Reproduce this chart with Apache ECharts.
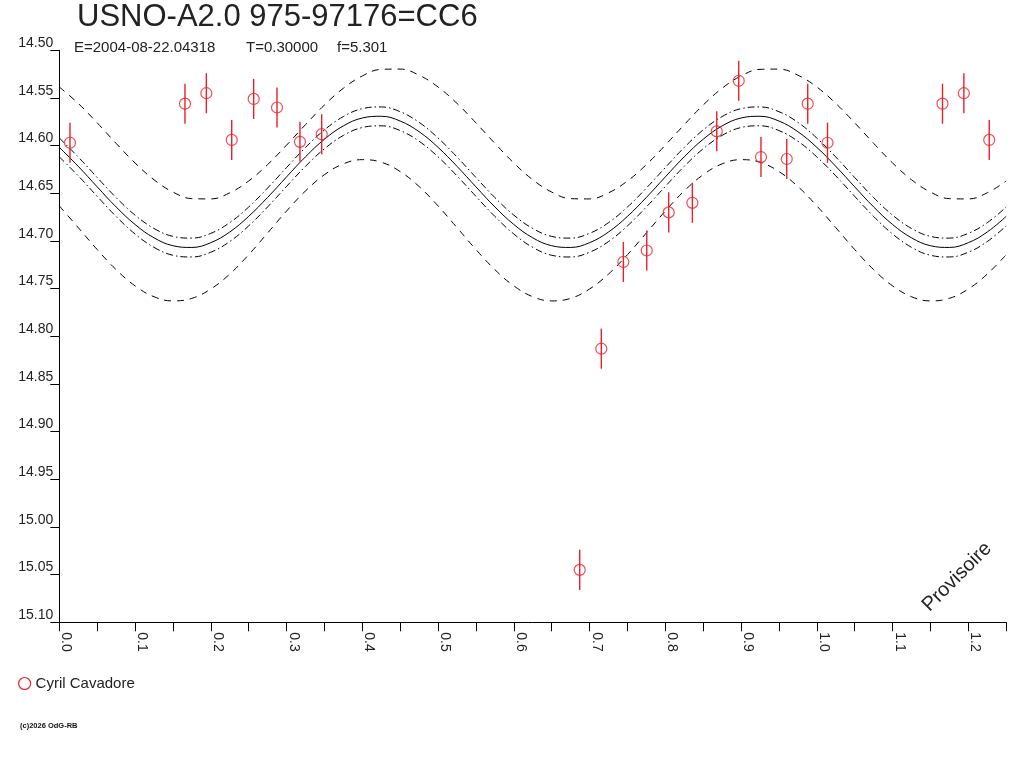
<!DOCTYPE html>
<html>
<head>
<meta charset="utf-8">
<script src="https://cdn.jsdelivr.net/npm/echarts@6/dist/echarts.min.js"></script>
<style>
html,body{margin:0;padding:0;background:#fff;}
#chart{width:1024px;height:768px;}
</style>
</head>
<body>
<div id="chart"></div>
<script>
// ---- observations (phase, magnitude, error) ----
const obsPhase = [0.0141,0.1659,0.1941,0.2276,0.2566,0.2874,0.3177,0.3464,0.6870,0.7155,0.7446,0.7755,0.8045,0.8357,0.8679,0.8969,0.9263,0.9603,0.9880];
const obsMag   = [14.597,14.556,14.545,14.594,14.551,14.560,14.596,14.588,15.045,14.813,14.722,14.710,14.670,14.660,14.585,14.532,14.612,14.614,14.556];
const obsErr   = [0.021,0.021,0.021,0.021,0.021,0.021,0.021,0.021,0.021,0.021,0.021,0.021,0.021,0.021,0.021,0.021,0.021,0.021,0.021];
const observer = 'Cyril Cavadore';

// ---- model curves (phase step 0.025) ----
const curvePhase = [0,0.025,0.05,0.075,0.1,0.125,0.15,0.175,0.2,0.225,0.25,0.275,0.3,0.325,0.35,0.375,0.4,0.425,0.45,0.475,
  0.5,0.525,0.55,0.575,0.6,0.625,0.65,0.675,0.7,0.725,0.75,0.775,0.8,0.825,0.85,0.875,0.9,0.925,0.95,0.975,
  1.0,1.025,1.05,1.075,1.1,1.125,1.15,1.175,1.2,1.225,1.25];
const fitMag = [14.6018,14.6217,14.6432,14.6643,14.6827,14.6967,14.7050,14.7068,14.7018,14.6906,14.6742,14.6543,14.6328,14.6117,14.5933,14.5793,14.5710,14.5692,14.5742,14.5854,
  14.6018,14.6217,14.6432,14.6643,14.6827,14.6967,14.7050,14.7068,14.7018,14.6906,14.6742,14.6543,14.6328,14.6117,14.5933,14.5793,14.5710,14.5692,14.5742,14.5854,
  14.6018,14.6217,14.6432,14.6643,14.6827,14.6967,14.7050,14.7068,14.7018,14.6906,14.6742];
const dashDotUp = [14.5920,14.6119,14.6334,14.6545,14.6729,14.6869,14.6952,14.6970,14.6920,14.6808,14.6644,14.6445,14.6230,14.6019,14.5835,14.5695,14.5612,14.5594,14.5644,14.5756,
  14.5920,14.6119,14.6334,14.6545,14.6729,14.6869,14.6952,14.6970,14.6920,14.6808,14.6644,14.6445,14.6230,14.6019,14.5835,14.5695,14.5612,14.5594,14.5644,14.5756,
  14.5920,14.6119,14.6334,14.6545,14.6729,14.6869,14.6952,14.6970,14.6920,14.6808,14.6644];
const dashDotLow = [14.6118,14.6317,14.6532,14.6743,14.6927,14.7067,14.7150,14.7168,14.7118,14.7006,14.6842,14.6643,14.6428,14.6217,14.6033,14.5893,14.5810,14.5792,14.5842,14.5954,
  14.6118,14.6317,14.6532,14.6743,14.6927,14.7067,14.7150,14.7168,14.7118,14.7006,14.6842,14.6643,14.6428,14.6217,14.6033,14.5893,14.5810,14.5792,14.5842,14.5954,
  14.6118,14.6317,14.6532,14.6743,14.6927,14.7067,14.7150,14.7168,14.7118,14.7006,14.6842];
const dashedUp = [14.5385,14.5557,14.5761,14.5976,14.6182,14.6358,14.6487,14.6556,14.6559,14.6495,14.6371,14.6199,14.5995,14.5780,14.5574,14.5398,14.5269,14.5200,14.5197,14.5261,
  14.5385,14.5557,14.5761,14.5976,14.6182,14.6358,14.6487,14.6556,14.6559,14.6495,14.6371,14.6199,14.5995,14.5780,14.5574,14.5398,14.5269,14.5200,14.5197,14.5261,
  14.5385,14.5557,14.5761,14.5976,14.6182,14.6358,14.6487,14.6556,14.6559,14.6495,14.6371];
const dashedLow = [14.6632,14.6860,14.7090,14.7301,14.7471,14.7585,14.7629,14.7602,14.7504,14.7347,14.7144,14.6916,14.6686,14.6475,14.6305,14.6191,14.6147,14.6174,14.6272,14.6429,
  14.6632,14.6860,14.7090,14.7301,14.7471,14.7585,14.7629,14.7602,14.7504,14.7347,14.7144,14.6916,14.6686,14.6475,14.6305,14.6191,14.6147,14.6174,14.6272,14.6429,
  14.6632,14.6860,14.7090,14.7301,14.7471,14.7585,14.7629,14.7602,14.7504,14.7347,14.7144];

// ---- texts ----
const titleText = 'USNO-A2.0 975-97176=CC6';
const subTexts = ['E=2004-08-22.04318', 'T=0.30000', 'f=5.301'];
const copyText = '(c)2026 OdG-RB';
const stampText = 'Provisoire';

const RED = '#e8202a';
const FONT = '"Liberation Sans", Arial, sans-serif';
const PMAX = 1.25;

// observations plus the repeated part of the phase diagram (phase + 1)
const pts = [];
for (let i = 0; i < obsPhase.length; i++) {
  pts.push([obsPhase[i], obsMag[i], obsErr[i]]);
  if (obsPhase[i] + 1 <= PMAX) pts.push([obsPhase[i] + 1, obsMag[i], obsErr[i]]);
}
const pair = (ys) => curvePhase.map((p, i) => [p, ys[i]]);

function lineSeries(ys, type) {
  return {
    type: 'line', data: pair(ys), smooth: 0.4, symbol: 'none', silent: true,
    lineStyle: { color: '#000', width: 1, type: type }, z: 2
  };
}

const chart = echarts.init(document.getElementById('chart'));
chart.setOption({
  backgroundColor: '#fff',
  animation: false,
  grid: { left: 59.3, top: 50.3, right: 17.8, bottom: 145.7 },
  xAxis: {
    type: 'value', min: 0, max: PMAX, interval: 0.05,
    axisLine: { show: true, onZero: false, lineStyle: { color: '#000', width: 1 } },
    axisTick: { show: true, length: 9, lineStyle: { color: '#000', width: 1 } },
    splitLine: { show: false },
    axisLabel: {
      rotate: -90, margin: 10, color: '#222', fontSize: 14, fontFamily: FONT,
      verticalAlign: 'bottom',
      formatter: function (v) {
        const t = v * 10;
        return Math.abs(t - Math.round(t)) < 1e-6 ? v.toFixed(1) : '';
      }
    }
  },
  yAxis: {
    type: 'value', inverse: true, min: 14.5, max: 15.1, interval: 0.05,
    axisLine: { show: true, lineStyle: { color: '#000', width: 1 } },
    axisTick: { show: true, length: 9, lineStyle: { color: '#000', width: 1 } },
    splitLine: { show: false },
    axisLabel: {
      margin: 6, color: '#222', fontSize: 14, fontFamily: FONT, verticalAlign: 'bottom',
      formatter: function (v) { return v.toFixed(2); }
    }
  },
  legend: {
    left: 18, top: 676, padding: 0, orient: 'vertical', itemWidth: 12, itemHeight: 12, itemGap: 4,
    textStyle: { fontSize: 15, color: '#222', fontFamily: FONT },
    data: [{ name: observer, icon: 'circle', itemStyle: { color: '#fff', borderColor: RED, borderWidth: 1.2 } }]
  },
  series: [
    lineSeries(dashedUp, [7, 6]),
    lineSeries(dashedLow, [7, 6]),
    lineSeries(dashDotUp, [7, 3, 1.5, 3]),
    lineSeries(dashDotLow, [7, 3, 1.5, 3]),
    lineSeries(fitMag, 'solid'),
    {
      type: 'custom', name: observer, data: pts, z: 4, silent: true,
      encode: { x: 0, y: 1 },
      renderItem: function (params, api) {
        const x = api.value(0), y = api.value(1), e = api.value(2);
        const a = api.coord([x, y - e]);
        const b = api.coord([x, y + e]);
        return {
          type: 'line',
          shape: { x1: a[0], y1: a[1], x2: b[0], y2: b[1] },
          style: { stroke: RED, lineWidth: 1.4 }
        };
      }
    },
    {
      type: 'scatter', name: observer, data: pts.map(p => [p[0], p[1]]), z: 5,
      symbol: 'circle', symbolSize: 11,
      itemStyle: { color: 'rgba(255,255,255,0)', borderColor: RED, borderWidth: 1.2 }
    }
  ],
  graphic: [
    { type: 'text', left: 77, top: 2, style: { text: titleText, fontSize: 31, fontFamily: FONT, fill: '#222' } },
    { type: 'text', left: 74, top: 40, style: { text: subTexts[0], fontSize: 15, fontFamily: FONT, fill: '#222' } },
    { type: 'text', left: 246, top: 40, style: { text: subTexts[1], fontSize: 15, fontFamily: FONT, fill: '#222' } },
    { type: 'text', left: 337, top: 40, style: { text: subTexts[2], fontSize: 15, fontFamily: FONT, fill: '#222' } },
    { type: 'text', left: 20, top: 722, style: { text: copyText, fontSize: 7.5, fontWeight: 'bold', fontFamily: FONT, fill: '#111' } },
    { type: 'text', x: 957, y: 577, rotation: Math.PI / 4,
      style: { text: stampText, fontSize: 20, fontFamily: FONT, fill: '#222', align: 'center', verticalAlign: 'middle' } }
  ]
});
</script>
</body>
</html>
